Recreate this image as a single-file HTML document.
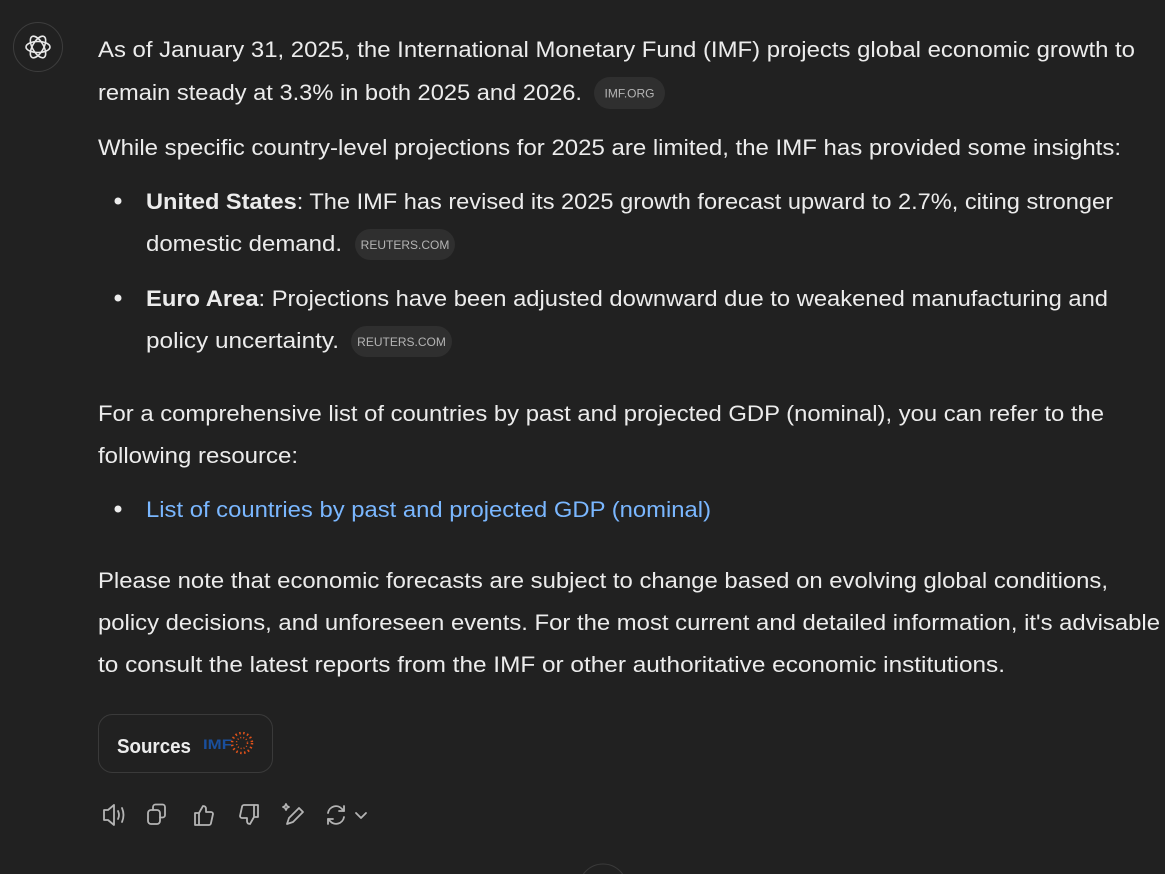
<!DOCTYPE html>
<html><head><meta charset="utf-8"><style>
html,body{margin:0;padding:0;background:#212121;}
svg{display:block}
text{font-family:"Liberation Sans",sans-serif;}
</style></head><body>
<svg width="1165" height="874" viewBox="0 0 1165 874" xmlns="http://www.w3.org/2000/svg">
<rect width="1165" height="874" fill="#212121"/>
<g>
<circle cx="38" cy="47" r="24.5" fill="none" stroke="#3d3d3d" stroke-width="1"/>
<g fill="none" stroke="#e8e8e8" stroke-width="1.6">
<ellipse cx="38" cy="47" rx="12" ry="5.5" transform="rotate(0 38 47)"/>
<ellipse cx="38" cy="47" rx="12" ry="5.5" transform="rotate(60 38 47)"/>
<ellipse cx="38" cy="47" rx="12" ry="5.5" transform="rotate(120 38 47)"/>
</g></g>
<g fill="#ececec" font-size="22">
<text x="98" y="57" textLength="1037" lengthAdjust="spacingAndGlyphs">As of January 31, 2025, the International Monetary Fund (IMF) projects global economic growth to</text>
<text x="98" y="100" textLength="484" lengthAdjust="spacingAndGlyphs">remain steady at 3.3% in both 2025 and 2026.</text>
<text x="98" y="155" textLength="1023" lengthAdjust="spacingAndGlyphs">While specific country-level projections for 2025 are limited, the IMF has provided some insights:</text>
<circle cx="118" cy="201" r="3.5"/>
<text x="146" y="209" textLength="967" lengthAdjust="spacingAndGlyphs"><tspan font-weight="bold">United States</tspan>: The IMF has revised its 2025 growth forecast upward to 2.7%, citing stronger</text>
<text x="146" y="251" textLength="196" lengthAdjust="spacingAndGlyphs">domestic demand.</text>
<circle cx="118" cy="298" r="3.5"/>
<text x="146" y="306" textLength="962" lengthAdjust="spacingAndGlyphs"><tspan font-weight="bold">Euro Area</tspan>: Projections have been adjusted downward due to weakened manufacturing and</text>
<text x="146" y="348" textLength="193" lengthAdjust="spacingAndGlyphs">policy uncertainty.</text>
<text x="98" y="421" textLength="1006" lengthAdjust="spacingAndGlyphs">For a comprehensive list of countries by past and projected GDP (nominal), you can refer to the</text>
<text x="98" y="463" textLength="200" lengthAdjust="spacingAndGlyphs">following resource:</text>
<circle cx="118" cy="509" r="3.5"/>
<text x="146" y="517" fill="#7ab7ff" textLength="565" lengthAdjust="spacingAndGlyphs">List of countries by past and projected GDP (nominal)</text>
<text x="98" y="588" textLength="1010" lengthAdjust="spacingAndGlyphs">Please note that economic forecasts are subject to change based on evolving global conditions,</text>
<text x="98" y="630" textLength="1062" lengthAdjust="spacingAndGlyphs">policy decisions, and unforeseen events. For the most current and detailed information, it's advisable</text>
<text x="98" y="672" textLength="907" lengthAdjust="spacingAndGlyphs">to consult the latest reports from the IMF or other authoritative economic institutions.</text>
</g>
<g>
<rect x="594" y="77" width="71" height="32" rx="16" fill="#2f2f2f"/>
<text x="629.5" y="97.5" fill="#b4b4b4" font-size="12" text-anchor="middle">IMF.ORG</text></g>
<g>
<rect x="355" y="229" width="100" height="31" rx="15.5" fill="#2f2f2f"/>
<text x="405" y="249" fill="#b4b4b4" font-size="12" text-anchor="middle">REUTERS.COM</text></g>
<g>
<rect x="351" y="326" width="101" height="31" rx="15.5" fill="#2f2f2f"/>
<text x="401.5" y="346" fill="#b4b4b4" font-size="12" text-anchor="middle">REUTERS.COM</text></g>
<g>
<rect x="98.5" y="714.5" width="174" height="58" rx="14" fill="#212121" stroke="#3a3a3a"/>
<text x="117" y="753" fill="#ececec" font-size="20" font-weight="bold" textLength="74" lengthAdjust="spacingAndGlyphs">Sources</text>
<text x="203" y="749" fill="#1a4f9c" font-size="14" font-weight="bold" textLength="29" lengthAdjust="spacingAndGlyphs">IMF</text>
<circle cx="242" cy="743" r="10" fill="none" stroke="#e0521a" stroke-width="2.5" stroke-dasharray="1.5 2.5"/>
<circle cx="242" cy="743" r="5.5" fill="none" stroke="#e0521a" stroke-width="1.5" stroke-dasharray="1 2"/>
</g>
<g fill="none" stroke="#b4b4b4" stroke-width="1.8" stroke-linecap="round" stroke-linejoin="round">
<g><path d="M104 810h4l6-5v20l-6-5h-4z"/><path d="M118 811q2 4 0 8M122 808q3 7 0 14"/></g>
<g><rect x="148" y="810" width="12" height="14" rx="3"/><path d="M153 810v-3a2.5 2.5 0 0 1 2.5-2.5h7a2.5 2.5 0 0 1 2.5 2.5v8a2.5 2.5 0 0 1-2.5 2.5h-2.5"/></g>
<g><path d="M195 813h4v12h-4zM199 813l4-7q3 0 3 3v3h5a2 2 0 0 1 2 2l-2 9a2 2 0 0 1-2 2h-10"/></g>
<g><path d="M254 817h4v-12h-4zM254 817l-4 7q-3 0-3-3v-3h-5a2 2 0 0 1-2-2l2-9a2 2 0 0 1 2-2h10"/></g>
<g><path d="M287 824l2-6 10-10 4 4-10 10z"/><path d="M286 804l1 2 2 1-2 1-1 2-1-2-2-1 2-1z"/></g>
<g><path d="M328 813a8 8 0 0 1 14-4l2 2M344 817a8 8 0 0 1-14 4l-2-2"/><path d="M344 806v5h-5M328 824v-5h5"/><path d="M356 813l5 5 5-5"/></g>
</g>
<circle cx="603" cy="888" r="24" fill="#212121" stroke="#3a3a3a"/>
</svg>
</body></html>
